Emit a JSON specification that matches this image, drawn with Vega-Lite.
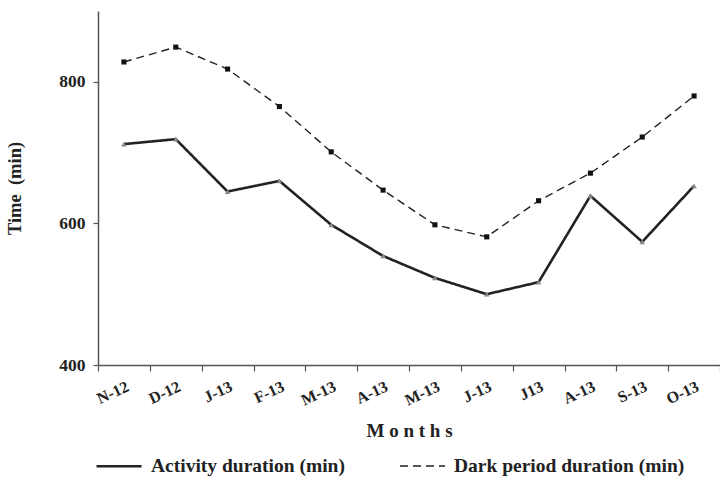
{
  "$schema": "https://vega.github.io/schema/vega-lite/v6.json",
  "width": 622,
  "height": 354,
  "autosize": {"type": "none"},
  "padding": {"left": 98, "top": 11, "right": 0, "bottom": 112},
  "background": "white",
  "config": {
    "view": {"stroke": null},
    "font": "Liberation Serif",
    "axis": {"domainColor": "#555", "tickColor": "#555", "domainWidth": 1.5, "tickWidth": 1.2, "grid": false, "labelColor": "#222", "titleColor": "#222"}
  },
  "data": {
    "values": [
      {"month": "2012-11", "series": "Activity duration (min)", "value": 712},
      {"month": "2012-12", "series": "Activity duration (min)", "value": 719},
      {"month": "2013-01", "series": "Activity duration (min)", "value": 645},
      {"month": "2013-02", "series": "Activity duration (min)", "value": 660},
      {"month": "2013-03", "series": "Activity duration (min)", "value": 598},
      {"month": "2013-04", "series": "Activity duration (min)", "value": 554},
      {"month": "2013-05", "series": "Activity duration (min)", "value": 523},
      {"month": "2013-06", "series": "Activity duration (min)", "value": 500},
      {"month": "2013-07", "series": "Activity duration (min)", "value": 517},
      {"month": "2013-08", "series": "Activity duration (min)", "value": 639},
      {"month": "2013-09", "series": "Activity duration (min)", "value": 574},
      {"month": "2013-10", "series": "Activity duration (min)", "value": 653},
      {"month": "2012-11", "series": "Dark period duration (min)", "value": 828},
      {"month": "2012-12", "series": "Dark period duration (min)", "value": 849},
      {"month": "2013-01", "series": "Dark period duration (min)", "value": 818},
      {"month": "2013-02", "series": "Dark period duration (min)", "value": 765},
      {"month": "2013-03", "series": "Dark period duration (min)", "value": 701},
      {"month": "2013-04", "series": "Dark period duration (min)", "value": 647},
      {"month": "2013-05", "series": "Dark period duration (min)", "value": 598},
      {"month": "2013-06", "series": "Dark period duration (min)", "value": 581},
      {"month": "2013-07", "series": "Dark period duration (min)", "value": 632},
      {"month": "2013-08", "series": "Dark period duration (min)", "value": 671},
      {"month": "2013-09", "series": "Dark period duration (min)", "value": 722},
      {"month": "2013-10", "series": "Dark period duration (min)", "value": 780}
    ]
  },
  "encoding": {
    "x": {
      "field": "month",
      "type": "ordinal",
      "sort": null,
      "bandPosition": 0.5,
      "scale": {"type": "band", "paddingInner": 0, "paddingOuter": 0},
      "axis": {
        "title": "M o n t h s",
        "titleFontSize": 19,
        "titleFontWeight": "bold",
        "titlePadding": 14,
        "labelAngle": -25,
        "labelFontSize": 16,
        "labelFontWeight": "bold",
        "labelPadding": 7,
        "tickBand": "extent",
        "tickSize": 6,
        "labelExpr": "{'2012-11':'N-12','2012-12':'D-12','2013-01':'J-13','2013-02':'F-13','2013-03':'M-13','2013-04':'A-13','2013-05':'M-13','2013-06':'J-13','2013-07':'J13','2013-08':'A-13','2013-09':'S-13','2013-10':'O-13'}[datum.value]"
      }
    },
    "y": {
      "field": "value",
      "type": "quantitative",
      "scale": {"domain": [400, 900], "nice": false, "zero": false},
      "axis": {
        "title": "Time\u00a0\u00a0(min)",
        "values": [400, 600, 800],
        "titleFontSize": 18.5,
        "titleFontWeight": "bold",
        "titlePadding": 34,
        "labelFontSize": 17.5,
        "labelFontWeight": "bold",
        "labelPadding": 8,
        "tickSize": 5
      }
    }
  },
  "layer": [
    {
      "mark": {"type": "line", "color": "#222"},
      "encoding": {
        "strokeDash": {
          "field": "series",
          "type": "nominal",
          "scale": {"domain": ["Activity duration (min)", "Dark period duration (min)"], "range": [[1, 0], [8, 5]]},
          "legend": {
            "title": null,
            "orient": "none",
            "legendX": -3,
            "legendY": 431,
            "direction": "horizontal",
            "symbolType": "stroke",
            "symbolSize": 2025,
            "symbolStrokeColor": "#222",
            "symbolStrokeWidth": 2.5,
            "labelFontSize": 19.5,
            "labelFontWeight": "bold",
            "labelColor": "#222",
            "labelLimit": 400,
            "labelOffset": 8,
            "columnPadding": 52
          }
        },
        "strokeWidth": {
          "field": "series",
          "type": "nominal",
          "scale": {"domain": ["Activity duration (min)", "Dark period duration (min)"], "range": [2.6, 1.4]},
          "legend": null
        }
      }
    },
    {
      "transform": [{"filter": "datum.series === 'Activity duration (min)'"}],
      "mark": {"type": "point", "filled": true, "opacity": 1, "shape": "triangle-up", "color": "#888", "size": 30},
      "encoding": {}
    },
    {
      "transform": [{"filter": "datum.series === 'Dark period duration (min)'"}],
      "mark": {"type": "point", "filled": true, "opacity": 1, "shape": "square", "color": "#111", "size": 26},
      "encoding": {}
    }
  ]
}
